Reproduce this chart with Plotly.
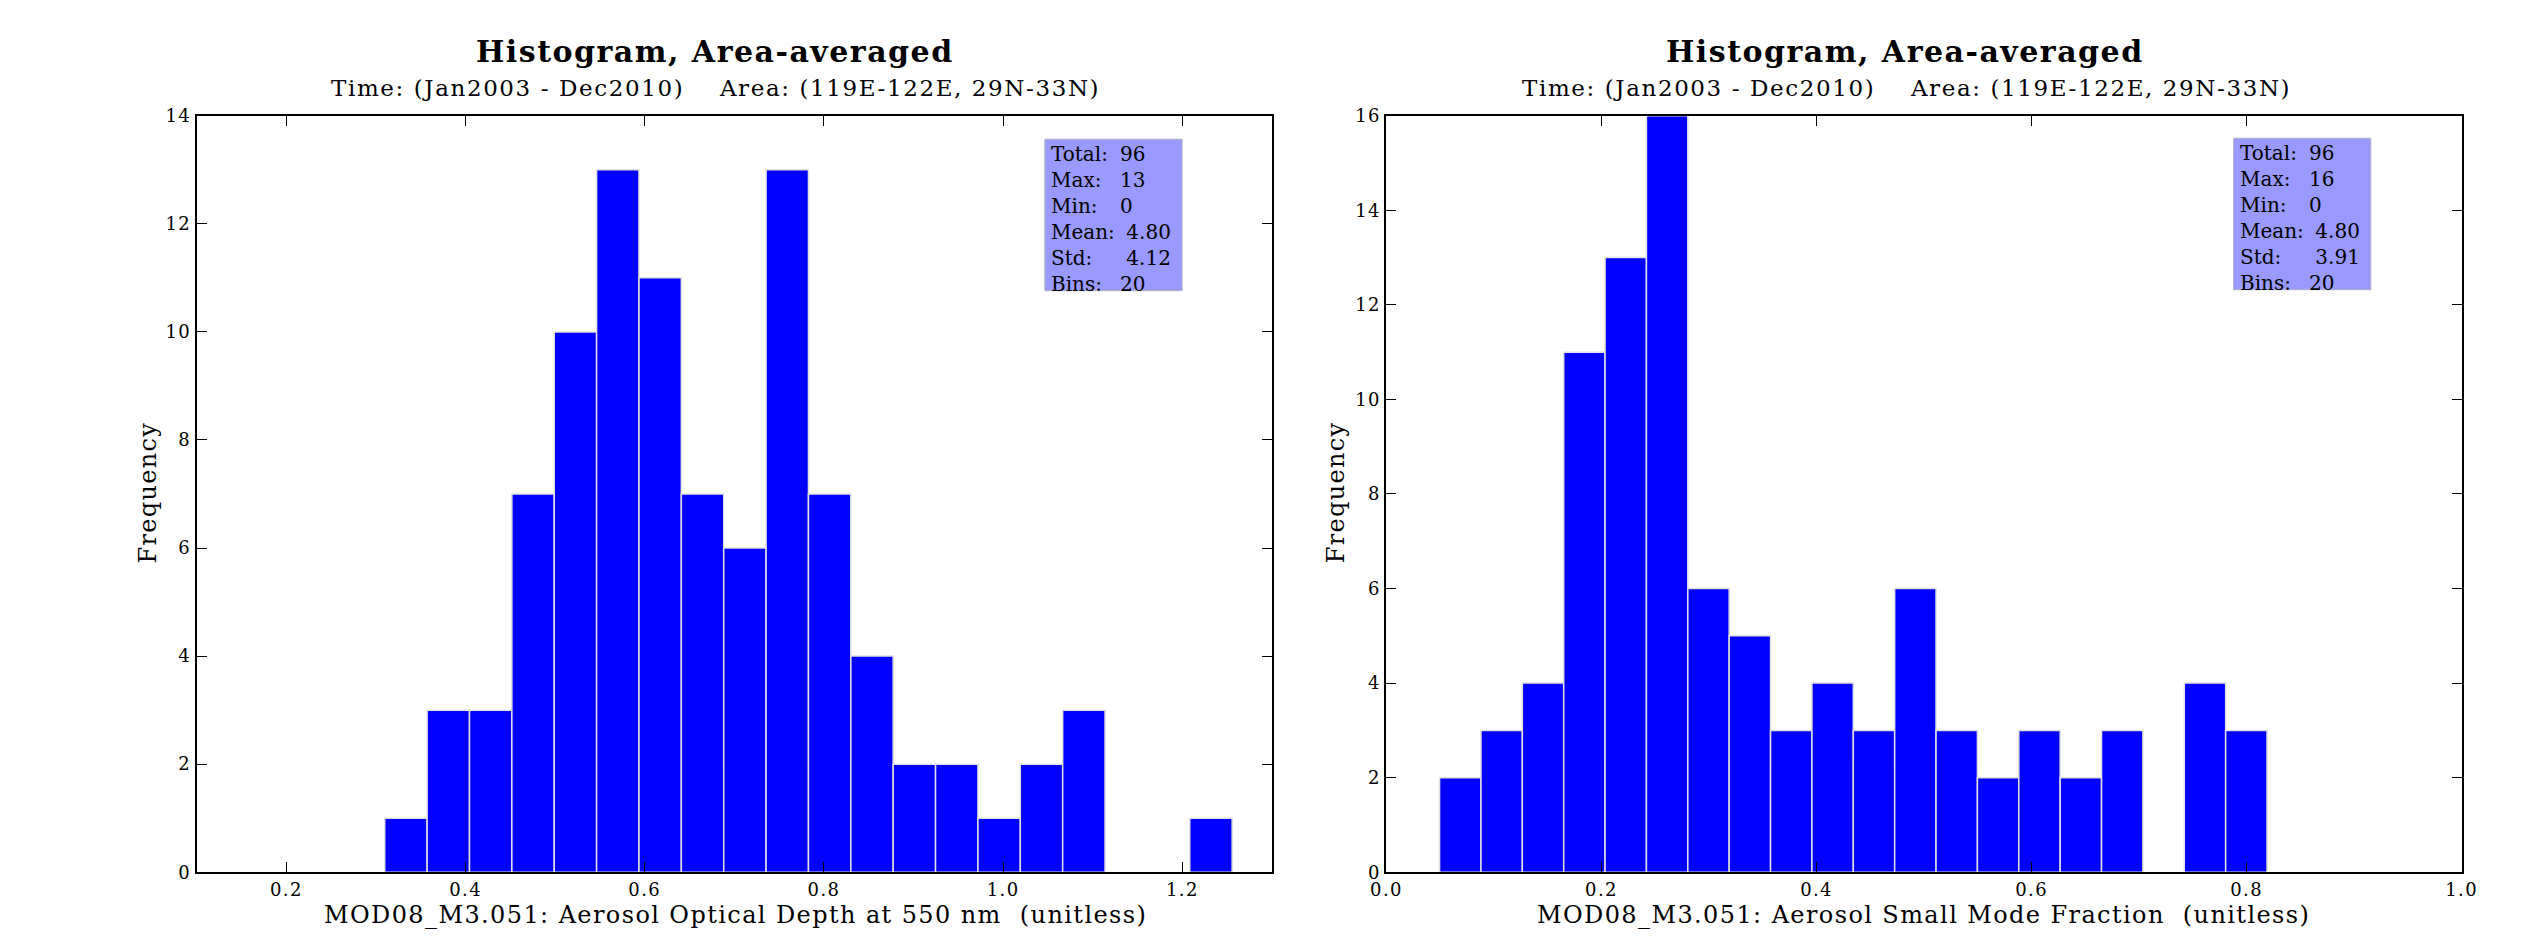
import plotly.graph_objects as go

# page is 2535x943; browser body margin is 8px, so figure is 16px smaller
PAGE_W, PAGE_H = 2535, 943
OFF = 8
W, H = PAGE_W - 2 * OFF, PAGE_H - 2 * OFF

# ---------------- data ----------------
aod_counts = [1, 3, 3, 7, 10, 13, 11, 7, 6, 13, 7, 4, 2, 2, 1, 2, 3, 0, 0, 1]
aod_bin_start = 0.3098
aod_bin_width = 0.04729

smf_counts = [2, 3, 4, 11, 13, 16, 6, 5, 3, 4, 3, 6, 3, 2, 3, 2, 3, 0, 4, 3]
smf_bin_start = 0.0494
smf_bin_width = 0.03848

aod_xticks = [0.2, 0.4, 0.6, 0.8, 1.0, 1.2]
smf_xticks = [0.0, 0.2, 0.4, 0.6, 0.8, 1.0]
aod_yticks = [0, 2, 4, 6, 8, 10, 12, 14]
smf_yticks = [0, 2, 4, 6, 8, 10, 12, 14, 16]

aod_stats_labels = ["Total:", "Max:", "Min:", "Mean:", "Std:", "Bins:"]
aod_stats_values = ["96", "13", "0", "4.80", "4.12", "20"]
smf_stats_labels = ["Total:", "Max:", "Min:", "Mean:", "Std:", "Bins:"]
smf_stats_values = ["96", "16", "0", "4.80", "3.91", "20"]

title_text = "Histogram, Area-averaged"
subtitle_text = "Time: (Jan2003 - Dec2010)&nbsp;&nbsp;&nbsp; Area: (119E-122E, 29N-33N)"
aod_xlabel = "MOD08_M3.051: Aerosol Optical Depth at 550 nm&nbsp; (unitless)"
smf_xlabel = "MOD08_M3.051: Aerosol Small Mode Fraction&nbsp; (unitless)"
ylabel = "Frequency"

FONT = "DejaVu Serif"

# ---------------- layout geometry (page pixels) ----------------
L1, R1 = 183, 1272
L2, R2 = 1388, 2477
TOP, BOT = 107, 881


def px(x):
    return (x - OFF) / W


def py(y):
    return 1 - (y - OFF) / H


def sp(text, spacing):
    return f'<span style="letter-spacing:{spacing}px">{text}</span>'


def centers(start, width, n):
    return [start + width * (i + 0.5) for i in range(n)]


fig = go.Figure()

fig.add_trace(go.Bar(
    x=centers(aod_bin_start, aod_bin_width, len(aod_counts)),
    y=[c if c > 0 else None for c in aod_counts],
    width=aod_bin_width,
    marker=dict(color="#0000ff", line=dict(color="#e0e0e0", width=1.5)),
    xaxis="x", yaxis="y", showlegend=False,
))
fig.add_trace(go.Bar(
    x=centers(smf_bin_start, smf_bin_width, len(smf_counts)),
    y=[c if c > 0 else None for c in smf_counts],
    width=smf_bin_width,
    marker=dict(color="#0000ff", line=dict(color="#e0e0e0", width=1.5)),
    xaxis="x2", yaxis="y2", showlegend=False,
))

axis_common = dict(
    showline=True, linecolor="black", linewidth=2, mirror="ticks",
    ticks="inside", ticklen=10, tickwidth=1, tickcolor="black",
    showgrid=False, zeroline=False,
    tickfont=dict(family=FONT, size=18, color="black"),
)
TICK_SP = 1.4

fig.update_layout(
    width=W, height=H,
    margin=dict(l=0, r=0, t=0, b=0),
    paper_bgcolor="white", plot_bgcolor="white",
    barmode="overlay",
    xaxis=dict(domain=[px(L1), px(R1)], range=[0.1, 1.3], tickvals=aod_xticks,
               ticktext=[sp(f"{v:.1f}", TICK_SP) for v in aod_xticks], anchor="y", **axis_common),
    yaxis=dict(domain=[py(BOT), py(TOP)], range=[0, 14], tickvals=aod_yticks,
               ticktext=[sp(str(v), TICK_SP) for v in aod_yticks], anchor="x", **axis_common),
    xaxis2=dict(domain=[px(L2), px(R2)], range=[0, 1.0], tickvals=smf_xticks,
                ticktext=[sp(f"{v:.1f}", TICK_SP) for v in smf_xticks], anchor="y2", **axis_common),
    yaxis2=dict(domain=[py(BOT), py(TOP)], range=[0, 16], tickvals=smf_yticks,
                ticktext=[sp(str(v), TICK_SP) for v in smf_yticks], anchor="x2", **axis_common),
)

annotations = []
shapes = []


def add_panel_text(title_cx, sub_cx, xlab_cx, xlab, ylab_x, box, labels, values):
    annotations.append(dict(text=f"<b>{sp(title_text, 1.5)}</b>", x=px(title_cx), y=py(41.5),
                            xref="paper", yref="paper", showarrow=False,
                            xanchor="center", yanchor="middle",
                            font=dict(family=FONT, size=30, color="black")))
    annotations.append(dict(text=sp(subtitle_text, 1.6), x=px(sub_cx), y=py(79),
                            xref="paper", yref="paper", showarrow=False,
                            xanchor="center", yanchor="middle",
                            font=dict(family=FONT, size=23, color="black")))
    annotations.append(dict(text=sp(xlab, 1.4), x=px(xlab_cx), y=py(925),
                            xref="paper", yref="paper", showarrow=False,
                            xanchor="center", yanchor="middle",
                            font=dict(family=FONT, size=24, color="black")))
    annotations.append(dict(text=sp(ylabel, 1.3), x=px(ylab_x), y=py(492), textangle=-90,
                            xref="paper", yref="paper", showarrow=False,
                            xanchor="center", yanchor="middle",
                            font=dict(family=FONT, size=24, color="black")))
    bx0, by0, bx1, by1 = box
    shapes.append(dict(type="rect", xref="paper", yref="paper",
                       x0=px(bx0), x1=px(bx1), y0=py(by1), y1=py(by0),
                       fillcolor="#9999ff", line=dict(color="#b0b0c8", width=1)))
    annotations.append(dict(text="<br>".join(labels), x=px(bx0 + 4), y=py(by0 + 1),
                            xref="paper", yref="paper", showarrow=False,
                            xanchor="left", yanchor="top", align="left",
                            font=dict(family=FONT, size=20, color="black")))
    vals = [("&nbsp;" + v) if "." in v else v for v in values]
    annotations.append(dict(text="<br>".join(vals), x=px(bx0 + 74), y=py(by0 + 1),
                            xref="paper", yref="paper", showarrow=False,
                            xanchor="left", yanchor="top", align="left",
                            font=dict(family=FONT, size=20, color="black")))


add_panel_text(708, 708, 729, aod_xlabel, 134, (1042, 131, 1181, 286),
               aod_stats_labels, aod_stats_values)
add_panel_text(1913, 1915, 1932, smf_xlabel, 1337, (2246, 130, 2385, 285),
               smf_stats_labels, smf_stats_values)

fig.update_layout(annotations=annotations, shapes=shapes)

fig.write_html("out.html")
